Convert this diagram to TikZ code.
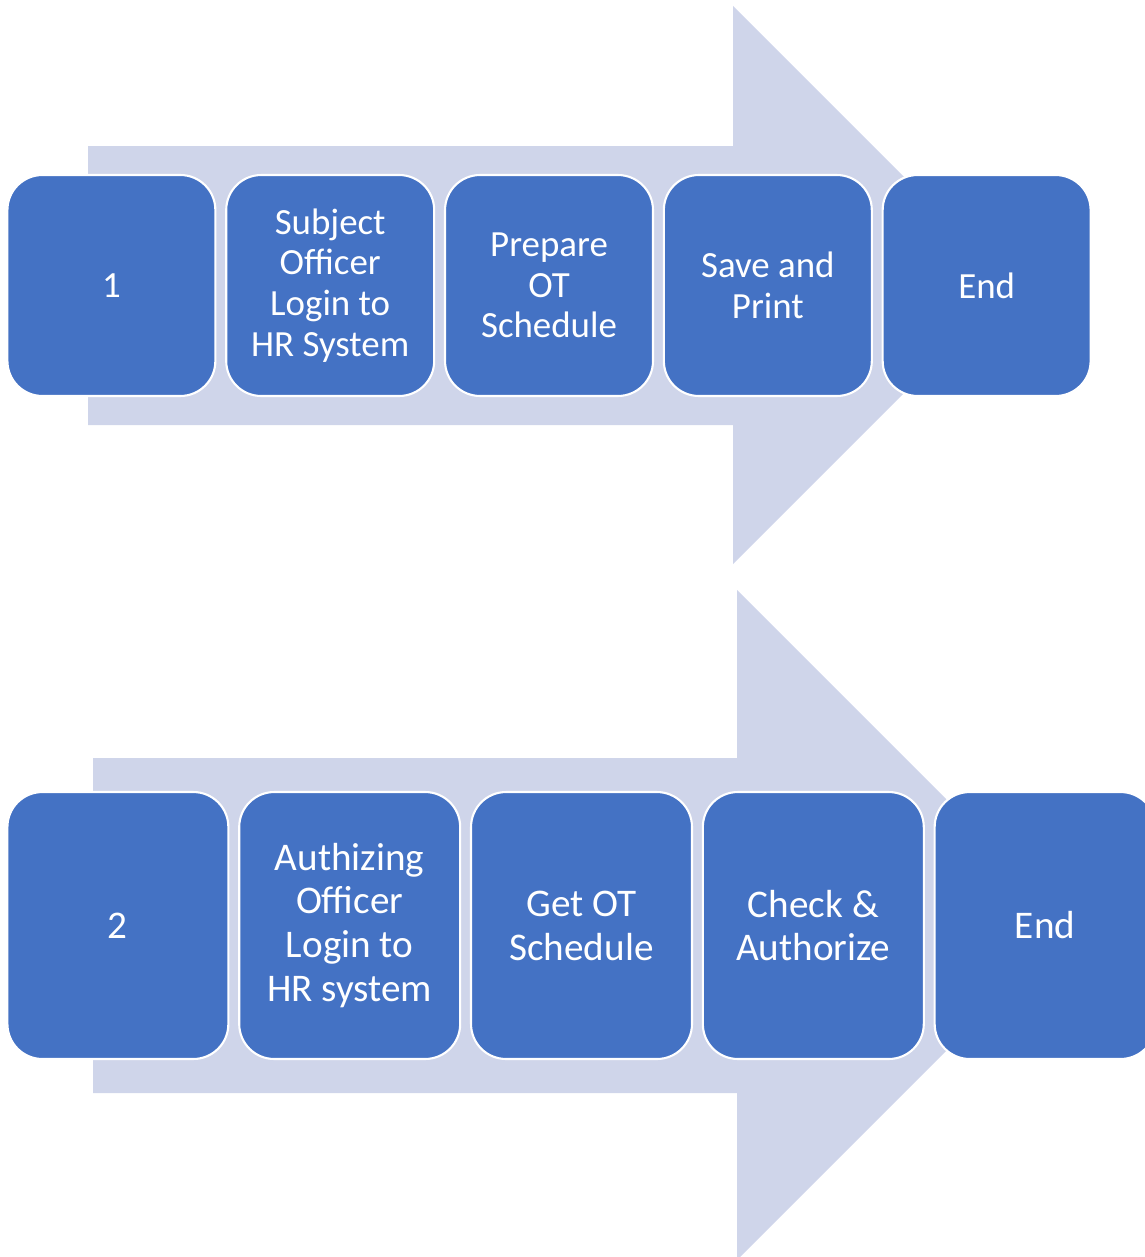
\documentclass[tikz,border=0pt]{standalone}
\usepackage{fontspec}
\setmainfont{Carlito}
\usetikzlibrary{matrix}
\definecolor{boxblue}{HTML}{4472C4}
\definecolor{arrowgrey}{HTML}{CFD5EA}
\begin{document}
\begin{tikzpicture}[x=0.02cm,y=-0.02cm,
 stepbox/.style={draw=white,line width=1.2pt,fill=boxblue,text=white,rounded corners=0.7cm,align=center,inner sep=2pt}]
\useasboundingbox (0,0) rectangle (1145,1257);
\fill[arrowgrey] (88,146) -- (733,146) -- (733,6) -- (1012,285) -- (733,564) -- (733,425) -- (88,425) -- cycle;
\fill[arrowgrey] (93,758) -- (737,758) -- (737,590) -- (1072,925) -- (737,1260) -- (737,1093) -- (93,1093) -- cycle;
\matrix (first) [anchor=west,inner sep=0pt,column sep=0.175cm,
 nodes={stepbox,minimum width=4.16cm,minimum height=4.42cm,font=\fontsize{21}{23.2}\selectfont}] at (6,285.5) {
 \node(a1){1}; & \node(a2){Subject\\Officer\\Login to\\HR System}; & \node(a3){Prepare\\OT\\Schedule}; & \node(a4){Save and\\Print}; & \node(a5){End}; \\
};
\matrix (second) [anchor=west,inner sep=0pt,column sep=0.175cm,
 nodes={stepbox,minimum width=4.42cm,minimum height=5.34cm,font=\fontsize{22.3}{25}\selectfont}] at (6,925.5) {
 \node(b1){2}; & \node(b2){Authizing\\Officer\\Login to\\HR system}; & \node(b3){Get OT\\Schedule}; & \node(b4){Check \&\\Authorize}; & \node(b5){End}; \\
};
\end{tikzpicture}
\end{document}
